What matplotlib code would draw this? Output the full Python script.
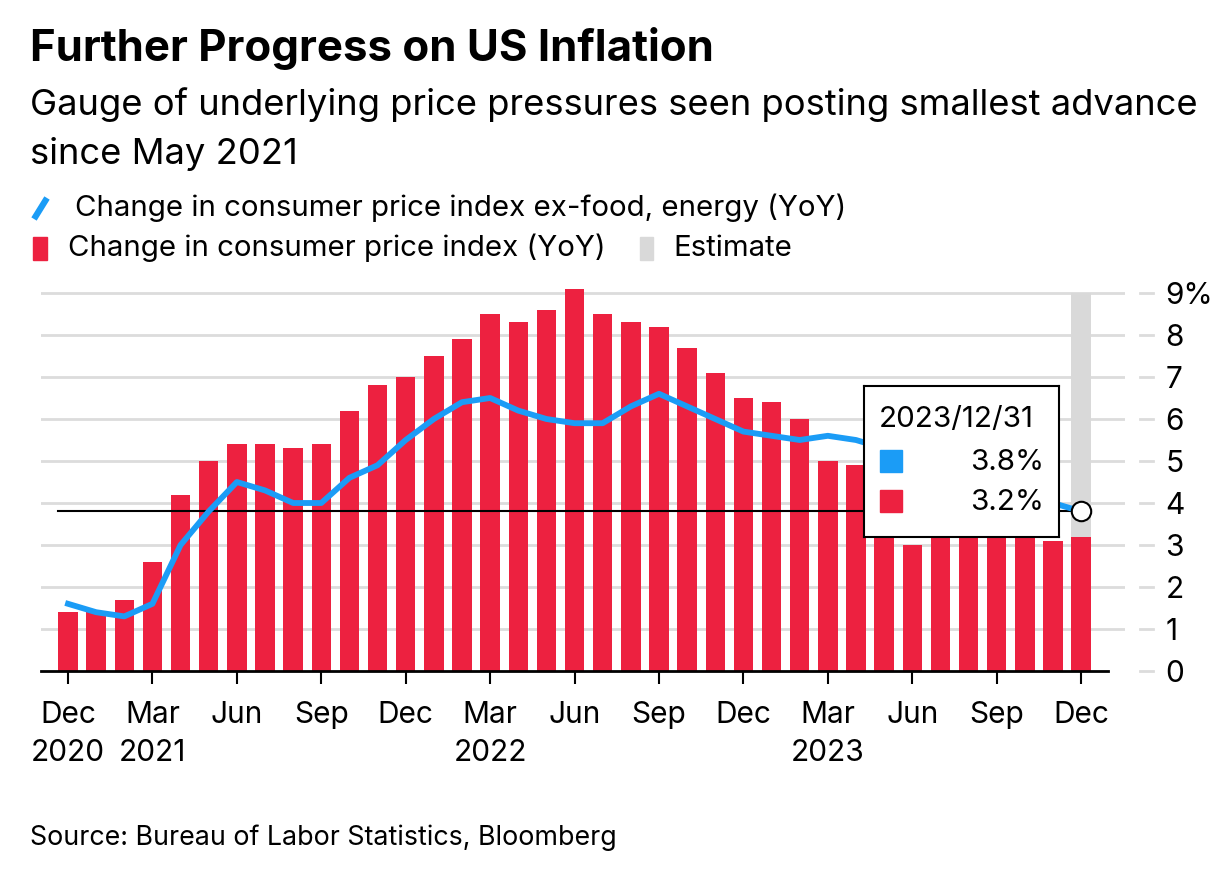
import matplotlib.pyplot as plt
from matplotlib.transforms import blended_transform_factory
from matplotlib.lines import Line2D
from matplotlib.patches import Rectangle

plt.rcParams['font.family'] = ['Inter', 'DejaVu Sans']

# ---- data (Dec 2020 .. Dec 2023, monthly, YoY %)
cpi = [1.4, 1.4, 1.7, 2.6, 4.2, 5.0, 5.4, 5.4, 5.3, 5.4, 6.2, 6.8,
       7.0, 7.5, 7.9, 8.5, 8.3, 8.6, 9.1, 8.5, 8.3, 8.2, 7.7, 7.1,
       6.5, 6.4, 6.0, 5.0, 4.9, 4.0, 3.0, 3.2, 3.7, 3.7, 3.2, 3.1,
       3.2]
core = [1.6, 1.4, 1.3, 1.6, 3.0, 3.8, 4.5, 4.3, 4.0, 4.0, 4.6, 4.9,
        5.5, 6.0, 6.4, 6.5, 6.2, 6.0, 5.9, 5.9, 6.3, 6.6, 6.3, 6.0,
        5.7, 5.6, 5.5, 5.6, 5.5, 5.3, 4.8, 4.7, 4.3, 4.1, 4.0, 4.0,
        3.8]
estimate_top = 9
tick_labels = ['Dec\n2020', 'Mar\n2021', 'Jun', 'Sep', 'Dec', 'Mar\n2022', 'Jun',
               'Sep', 'Dec', 'Mar\n2023', 'Jun', 'Sep', 'Dec']
y_labels = ['0', '1', '2', '3', '4', '5', '6', '7', '8', '9%']
tip_date = '2023/12/31'

RED = '#ed2140'
BLUE = '#1b9cf6'
GRID = '#dcdcdc'

W, H = 1232, 886
fig = plt.figure(figsize=(W / 100, H / 100), dpi=100)
ax = fig.add_axes([41 / W, 215 / H, (1125 - 41) / W, 386.4 / H])
x = list(range(len(cpi)))

# grid
for v in range(1, 10):
    ax.axhline(v, color=GRID, lw=2, zorder=0)

# estimate shading + bars
ax.bar(x[-1], estimate_top, width=0.69, color='#d9d9d9', zorder=1)
ax.bar(x, cpi, width=0.69, color=RED, zorder=2)

# reference line at latest core value
ax.plot([-0.36, x[-1]], [core[-1], core[-1]], color='black', lw=1.5, zorder=3)
ax.plot(x, core, color=BLUE, lw=4.2, zorder=4, solid_joinstyle='round')
ax.plot(x[-1], core[-1], 'o', ms=14, mfc='white', mec='black', mew=1.5, zorder=5)

ax.set_xlim(-0.96, 37.56)
ax.set_ylim(0, 9.2)
for s in ax.spines.values():
    s.set_visible(False)
ax.plot([-0.96, 36.96], [0, 0], color='black', lw=2, zorder=3, clip_on=False)

ax.set_xticks(range(0, len(cpi), 3))
ax.set_xticklabels(tick_labels, fontsize=21.5, linespacing=1.45)
ax.tick_params(axis='x', length=9.5, width=1.5, color='black', pad=12)

ax.yaxis.tick_right()
ax.set_yticks(range(10))
ax.set_yticklabels(y_labels, fontsize=21.5)
ax.tick_params(axis='y', length=0, pad=29)
trans = blended_transform_factory(ax.transAxes, ax.transData)
for v in range(10):
    ax.plot([1.0138, 1.0258], [v, v], transform=trans, color=GRID, lw=2, clip_on=False)

# tooltip
tb = fig.add_axes([864 / W, 1 - 537 / H, (1059 - 864) / W, (537 - 386) / H])
tb.set_xlim(0, 195)
tb.set_ylim(151, 0)
tb.set_xticks([])
tb.set_yticks([])
for s in tb.spines.values():
    s.set_linewidth(1.5)
tb.text(15, 34, tip_date, fontsize=21.3, va='center', ha='left')
tb.add_patch(Rectangle((16, 64), 22, 22, color=BLUE))
tb.add_patch(Rectangle((16, 104), 22, 22, color=RED))
tb.text(180, 76, '%.1f%%' % core[-1], fontsize=21.3, va='center', ha='right')
tb.text(180, 116, '%.1f%%' % cpi[-1], fontsize=21.3, va='center', ha='right')

# titles
fig.text(30 / W, 1 - 48 / H, 'Further Progress on US Inflation', fontsize=31.5,
         fontweight='bold', va='center', ha='left')
fig.text(30 / W, 1 - 105 / H, 'Gauge of underlying price pressures seen posting smallest advance',
         fontsize=26.2, va='center', ha='left')
fig.text(30 / W, 1 - 154 / H, 'since May 2021', fontsize=26.2, va='center', ha='left')

# legend
fig.add_artist(Line2D([34 / W, 47 / W], [1 - 219 / H, 1 - 198 / H], color=BLUE, lw=4.5,
                      solid_capstyle='butt'))
fig.text(75 / W, 1 - 208 / H, 'Change in consumer price index ex-food, energy (YoY)',
         fontsize=21.2, va='center', ha='left')
fig.add_artist(Rectangle((33 / W, 1 - 260 / H), 14 / W, 23 / H, color=RED))
fig.text(68 / W, 1 - 248 / H, 'Change in consumer price index (YoY)',
         fontsize=21.2, va='center', ha='left')
fig.add_artist(Rectangle((640 / W, 1 - 260 / H), 13 / W, 23 / H, color='#d9d9d9'))
fig.text(673 / W, 1 - 248 / H, 'Estimate', fontsize=21.2, va='center', ha='left')

fig.text(30 / W, 1 - 838 / H, 'Source: Bureau of Labor Statistics, Bloomberg',
         fontsize=19.3, va='center', ha='left')

fig.savefig('out.png', dpi=100)
